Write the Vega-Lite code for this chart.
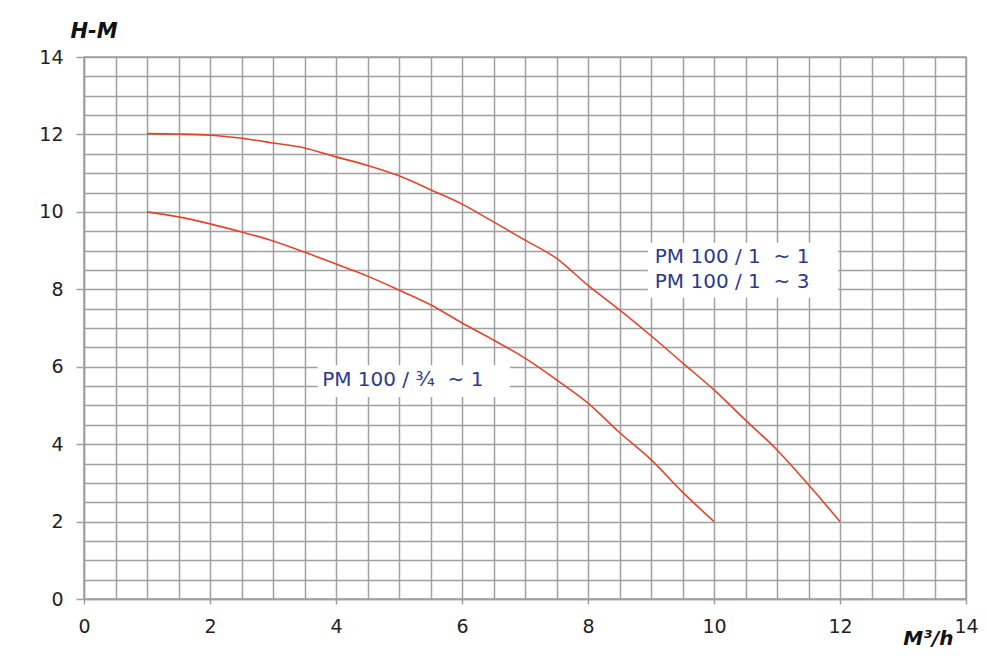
{
  "$schema": "https://vega.github.io/schema/vega-lite/v6.json",
  "width": 882,
  "height": 542,
  "autosize": {"type": "none"},
  "padding": {"left": 84, "top": 57, "right": 21, "bottom": 62},
  "background": "#ffffff",
  "config": {
    "view": {"stroke": "#a0a0a0", "strokeWidth": 1.5},
    "font": "DejaVu Sans"
  },
  "datasets": {
    "curves": [
      {"series": "PM 100 / 1", "Q": 1, "H": 12.02},
      {"series": "PM 100 / 1", "Q": 1.5, "H": 12.01},
      {"series": "PM 100 / 1", "Q": 2, "H": 11.98},
      {"series": "PM 100 / 1", "Q": 2.5, "H": 11.9},
      {"series": "PM 100 / 1", "Q": 3, "H": 11.78},
      {"series": "PM 100 / 1", "Q": 3.5, "H": 11.65},
      {"series": "PM 100 / 1", "Q": 4, "H": 11.42},
      {"series": "PM 100 / 1", "Q": 4.5, "H": 11.2},
      {"series": "PM 100 / 1", "Q": 5, "H": 10.93},
      {"series": "PM 100 / 1", "Q": 5.5, "H": 10.57},
      {"series": "PM 100 / 1", "Q": 6, "H": 10.2},
      {"series": "PM 100 / 1", "Q": 6.5, "H": 9.74},
      {"series": "PM 100 / 1", "Q": 7, "H": 9.27},
      {"series": "PM 100 / 1", "Q": 7.5, "H": 8.8},
      {"series": "PM 100 / 1", "Q": 8, "H": 8.1},
      {"series": "PM 100 / 1", "Q": 8.5, "H": 7.47},
      {"series": "PM 100 / 1", "Q": 9, "H": 6.8},
      {"series": "PM 100 / 1", "Q": 9.5, "H": 6.1},
      {"series": "PM 100 / 1", "Q": 10, "H": 5.4},
      {"series": "PM 100 / 1", "Q": 10.5, "H": 4.62},
      {"series": "PM 100 / 1", "Q": 11, "H": 3.85},
      {"series": "PM 100 / 1", "Q": 11.5, "H": 2.95},
      {"series": "PM 100 / 1", "Q": 12, "H": 2.0},
      {"series": "PM 100 / 3/4", "Q": 1, "H": 10.0},
      {"series": "PM 100 / 3/4", "Q": 1.5, "H": 9.87},
      {"series": "PM 100 / 3/4", "Q": 2, "H": 9.69},
      {"series": "PM 100 / 3/4", "Q": 2.5, "H": 9.48},
      {"series": "PM 100 / 3/4", "Q": 3, "H": 9.25},
      {"series": "PM 100 / 3/4", "Q": 3.5, "H": 8.96},
      {"series": "PM 100 / 3/4", "Q": 4, "H": 8.65},
      {"series": "PM 100 / 3/4", "Q": 4.5, "H": 8.34},
      {"series": "PM 100 / 3/4", "Q": 5, "H": 7.98},
      {"series": "PM 100 / 3/4", "Q": 5.5, "H": 7.6},
      {"series": "PM 100 / 3/4", "Q": 6, "H": 7.13},
      {"series": "PM 100 / 3/4", "Q": 6.5, "H": 6.69},
      {"series": "PM 100 / 3/4", "Q": 7, "H": 6.22},
      {"series": "PM 100 / 3/4", "Q": 7.5, "H": 5.66},
      {"series": "PM 100 / 3/4", "Q": 8, "H": 5.06},
      {"series": "PM 100 / 3/4", "Q": 8.5, "H": 4.3},
      {"series": "PM 100 / 3/4", "Q": 9, "H": 3.6},
      {"series": "PM 100 / 3/4", "Q": 9.5, "H": 2.76},
      {"series": "PM 100 / 3/4", "Q": 10, "H": 2.0}
    ],
    "boxes": [
      {"x1": 8.95, "x2": 11.97, "y1": 7.78, "y2": 9.2},
      {"x1": 3.71, "x2": 6.76, "y1": 5.22, "y2": 6.04}
    ],
    "labels": [
      {"text": "PM 100 / 1\u00a0 ~ 1", "Q": 9.06, "H": 8.83},
      {"text": "PM 100 / 1\u00a0 ~ 3", "Q": 9.06, "H": 8.19},
      {"text": "PM 100 / ¾\u00a0 ~ 1", "Q": 3.78, "H": 5.66}
    ]
  },
  "layer": [
    {
      "data": {"name": "curves"},
      "mark": {"type": "line", "color": "#e0452a", "strokeWidth": 1.6, "interpolate": "monotone"},
      "encoding": {
        "x": {
          "field": "Q", "type": "quantitative",
          "scale": {"domain": [0, 14], "nice": false, "zero": false},
          "axis": {
            "values": [0,0.5,1,1.5,2,2.5,3,3.5,4,4.5,5,5.5,6,6.5,7,7.5,8,8.5,9,9.5,10,10.5,11,11.5,12,12.5,13,13.5,14],
            "tickCount": 100,
            "labelExpr": "datum.value % 2 === 0 ? format(datum.value, 'd') : ''",
            "labelOverlap": false,
            "grid": true, "gridColor": "#a0a0a0", "gridWidth": 1.5, "gridOpacity": 1,
            "domainColor": "#a0a0a0", "domainWidth": 1.5,
            "tickColor": "#a0a0a0", "tickWidth": 1.5, "tickSize": 5,
            "tickOpacity": {"condition": {"test": "datum.value % 2 === 0", "value": 1}, "value": 0},
            "labelFontSize": 19, "labelColor": "#222222", "labelPadding": 13,
            "labelFont": "DejaVu Sans", "labelFlush": false,
            "title": "M³/h", "titleFontSize": 20, "titleFontWeight": "bold", "titleFontStyle": "italic",
            "titleColor": "#111111", "titleAlign": "right", "titleAnchor": null,
            "titleX": 869, "titleY": 45, "titleBaseline": "alphabetic", "titleFont": "DejaVu Sans"
          }
        },
        "y": {
          "field": "H", "type": "quantitative",
          "scale": {"domain": [0, 14], "nice": false, "zero": false},
          "axis": {
            "values": [0,0.5,1,1.5,2,2.5,3,3.5,4,4.5,5,5.5,6,6.5,7,7.5,8,8.5,9,9.5,10,10.5,11,11.5,12,12.5,13,13.5,14],
            "tickCount": 100,
            "labelExpr": "datum.value % 2 === 0 ? format(datum.value, 'd') : ''",
            "labelOverlap": false,
            "grid": true, "gridColor": "#a0a0a0", "gridWidth": 1.5, "gridOpacity": 1,
            "domainColor": "#a0a0a0", "domainWidth": 1.5,
            "tickColor": "#a0a0a0", "tickWidth": 1.5, "tickSize": 8,
            "tickOpacity": {"condition": {"test": "datum.value % 2 === 0", "value": 1}, "value": 0},
            "labelFontSize": 19, "labelColor": "#222222", "labelPadding": 13,
            "labelFont": "DejaVu Sans", "labelFlush": false,
            "title": "H-M", "titleFontSize": 21, "titleFontWeight": "bold", "titleFontStyle": "italic",
            "titleColor": "#111111", "titleAngle": 0, "titleAlign": "left", "titleAnchor": null,
            "titleX": -14, "titleY": -20, "titleBaseline": "alphabetic", "titleFont": "DejaVu Sans"
          }
        },
        "detail": {"field": "series"}
      }
    },
    {
      "data": {"name": "boxes"},
      "mark": {"type": "rect", "fill": "#ffffff", "stroke": null},
      "encoding": {
        "x": {"field": "x1", "type": "quantitative"},
        "x2": {"field": "x2"},
        "y": {"field": "y1", "type": "quantitative"},
        "y2": {"field": "y2"}
      }
    },
    {
      "data": {"name": "labels"},
      "mark": {"type": "text", "align": "left", "baseline": "middle", "fontSize": 20, "color": "#2b3990", "font": "DejaVu Sans"},
      "encoding": {
        "x": {"field": "Q", "type": "quantitative"},
        "y": {"field": "H", "type": "quantitative"},
        "text": {"field": "text"}
      }
    }
  ]
}
